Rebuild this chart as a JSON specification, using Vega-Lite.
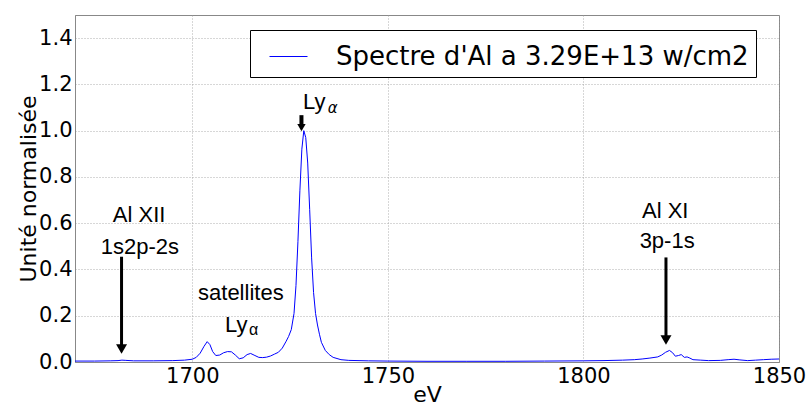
{
  "$schema": "https://vega.github.io/schema/vega-lite/v6.json",
  "width": 704,
  "height": 347,
  "autosize": {"type": "none"},
  "padding": {"left": 75, "top": 15, "right": 29, "bottom": 44},
  "background": "white",
  "config": {
    "view": {"stroke": "#888888", "strokeWidth": 1},
    "axis": {
      "labelFont": "DejaVu Sans",
      "labelFontSize": 21,
      "labelColor": "black",
      "labelPadding": 3,
      "labelFlush": false,
      "labelOverlap": false,
      "ticks": false,
      "domainColor": "#888888",
      "grid": true,
      "gridColor": "#999999",
      "gridDash": [1, 2],
      "gridWidth": 0.8,
      "titleFont": "DejaVu Sans",
      "titleFontSize": 22,
      "titleFontWeight": "normal",
      "titleColor": "black"
    }
  },
  "datasets": {
    "spectre": [
      {"eV": 1670, "I": 0.004, "serie": "Spectre d'Al a 3.29E+13 w/cm2"},
      {"eV": 1675, "I": 0.004, "serie": "Spectre d'Al a 3.29E+13 w/cm2"},
      {"eV": 1679, "I": 0.005, "serie": "Spectre d'Al a 3.29E+13 w/cm2"},
      {"eV": 1681, "I": 0.006, "serie": "Spectre d'Al a 3.29E+13 w/cm2"},
      {"eV": 1682, "I": 0.008, "serie": "Spectre d'Al a 3.29E+13 w/cm2"},
      {"eV": 1683, "I": 0.007, "serie": "Spectre d'Al a 3.29E+13 w/cm2"},
      {"eV": 1685, "I": 0.005, "serie": "Spectre d'Al a 3.29E+13 w/cm2"},
      {"eV": 1690, "I": 0.005, "serie": "Spectre d'Al a 3.29E+13 w/cm2"},
      {"eV": 1695, "I": 0.006, "serie": "Spectre d'Al a 3.29E+13 w/cm2"},
      {"eV": 1698, "I": 0.008, "serie": "Spectre d'Al a 3.29E+13 w/cm2"},
      {"eV": 1700, "I": 0.012, "serie": "Spectre d'Al a 3.29E+13 w/cm2"},
      {"eV": 1701, "I": 0.02, "serie": "Spectre d'Al a 3.29E+13 w/cm2"},
      {"eV": 1702, "I": 0.038, "serie": "Spectre d'Al a 3.29E+13 w/cm2"},
      {"eV": 1703, "I": 0.068, "serie": "Spectre d'Al a 3.29E+13 w/cm2"},
      {"eV": 1703.8, "I": 0.088, "serie": "Spectre d'Al a 3.29E+13 w/cm2"},
      {"eV": 1704.5, "I": 0.075, "serie": "Spectre d'Al a 3.29E+13 w/cm2"},
      {"eV": 1705.2, "I": 0.045, "serie": "Spectre d'Al a 3.29E+13 w/cm2"},
      {"eV": 1706, "I": 0.028, "serie": "Spectre d'Al a 3.29E+13 w/cm2"},
      {"eV": 1707, "I": 0.03, "serie": "Spectre d'Al a 3.29E+13 w/cm2"},
      {"eV": 1708, "I": 0.04, "serie": "Spectre d'Al a 3.29E+13 w/cm2"},
      {"eV": 1709, "I": 0.045, "serie": "Spectre d'Al a 3.29E+13 w/cm2"},
      {"eV": 1710, "I": 0.044, "serie": "Spectre d'Al a 3.29E+13 w/cm2"},
      {"eV": 1711, "I": 0.03, "serie": "Spectre d'Al a 3.29E+13 w/cm2"},
      {"eV": 1712, "I": 0.014, "serie": "Spectre d'Al a 3.29E+13 w/cm2"},
      {"eV": 1713, "I": 0.018, "serie": "Spectre d'Al a 3.29E+13 w/cm2"},
      {"eV": 1714, "I": 0.032, "serie": "Spectre d'Al a 3.29E+13 w/cm2"},
      {"eV": 1714.9, "I": 0.037, "serie": "Spectre d'Al a 3.29E+13 w/cm2"},
      {"eV": 1716, "I": 0.028, "serie": "Spectre d'Al a 3.29E+13 w/cm2"},
      {"eV": 1717, "I": 0.02, "serie": "Spectre d'Al a 3.29E+13 w/cm2"},
      {"eV": 1718, "I": 0.019, "serie": "Spectre d'Al a 3.29E+13 w/cm2"},
      {"eV": 1719, "I": 0.021, "serie": "Spectre d'Al a 3.29E+13 w/cm2"},
      {"eV": 1720, "I": 0.026, "serie": "Spectre d'Al a 3.29E+13 w/cm2"},
      {"eV": 1721, "I": 0.034, "serie": "Spectre d'Al a 3.29E+13 w/cm2"},
      {"eV": 1722, "I": 0.042, "serie": "Spectre d'Al a 3.29E+13 w/cm2"},
      {"eV": 1723, "I": 0.06, "serie": "Spectre d'Al a 3.29E+13 w/cm2"},
      {"eV": 1724, "I": 0.09, "serie": "Spectre d'Al a 3.29E+13 w/cm2"},
      {"eV": 1724.6, "I": 0.11, "serie": "Spectre d'Al a 3.29E+13 w/cm2"},
      {"eV": 1725.3, "I": 0.14, "serie": "Spectre d'Al a 3.29E+13 w/cm2"},
      {"eV": 1726, "I": 0.21, "serie": "Spectre d'Al a 3.29E+13 w/cm2"},
      {"eV": 1726.5, "I": 0.33, "serie": "Spectre d'Al a 3.29E+13 w/cm2"},
      {"eV": 1727, "I": 0.52, "serie": "Spectre d'Al a 3.29E+13 w/cm2"},
      {"eV": 1727.5, "I": 0.74, "serie": "Spectre d'Al a 3.29E+13 w/cm2"},
      {"eV": 1728, "I": 0.92, "serie": "Spectre d'Al a 3.29E+13 w/cm2"},
      {"eV": 1728.5, "I": 1.0, "serie": "Spectre d'Al a 3.29E+13 w/cm2"},
      {"eV": 1729, "I": 0.97, "serie": "Spectre d'Al a 3.29E+13 w/cm2"},
      {"eV": 1729.5, "I": 0.86, "serie": "Spectre d'Al a 3.29E+13 w/cm2"},
      {"eV": 1730, "I": 0.66, "serie": "Spectre d'Al a 3.29E+13 w/cm2"},
      {"eV": 1730.5, "I": 0.45, "serie": "Spectre d'Al a 3.29E+13 w/cm2"},
      {"eV": 1731, "I": 0.3, "serie": "Spectre d'Al a 3.29E+13 w/cm2"},
      {"eV": 1731.5, "I": 0.21, "serie": "Spectre d'Al a 3.29E+13 w/cm2"},
      {"eV": 1732, "I": 0.16, "serie": "Spectre d'Al a 3.29E+13 w/cm2"},
      {"eV": 1732.5, "I": 0.12, "serie": "Spectre d'Al a 3.29E+13 w/cm2"},
      {"eV": 1733, "I": 0.085, "serie": "Spectre d'Al a 3.29E+13 w/cm2"},
      {"eV": 1734, "I": 0.05, "serie": "Spectre d'Al a 3.29E+13 w/cm2"},
      {"eV": 1735, "I": 0.032, "serie": "Spectre d'Al a 3.29E+13 w/cm2"},
      {"eV": 1736, "I": 0.02, "serie": "Spectre d'Al a 3.29E+13 w/cm2"},
      {"eV": 1738, "I": 0.01, "serie": "Spectre d'Al a 3.29E+13 w/cm2"},
      {"eV": 1740, "I": 0.007, "serie": "Spectre d'Al a 3.29E+13 w/cm2"},
      {"eV": 1745, "I": 0.005, "serie": "Spectre d'Al a 3.29E+13 w/cm2"},
      {"eV": 1750, "I": 0.004, "serie": "Spectre d'Al a 3.29E+13 w/cm2"},
      {"eV": 1760, "I": 0.003, "serie": "Spectre d'Al a 3.29E+13 w/cm2"},
      {"eV": 1770, "I": 0.003, "serie": "Spectre d'Al a 3.29E+13 w/cm2"},
      {"eV": 1780, "I": 0.003, "serie": "Spectre d'Al a 3.29E+13 w/cm2"},
      {"eV": 1790, "I": 0.004, "serie": "Spectre d'Al a 3.29E+13 w/cm2"},
      {"eV": 1800, "I": 0.005, "serie": "Spectre d'Al a 3.29E+13 w/cm2"},
      {"eV": 1805, "I": 0.006, "serie": "Spectre d'Al a 3.29E+13 w/cm2"},
      {"eV": 1810, "I": 0.008, "serie": "Spectre d'Al a 3.29E+13 w/cm2"},
      {"eV": 1813, "I": 0.01, "serie": "Spectre d'Al a 3.29E+13 w/cm2"},
      {"eV": 1815, "I": 0.013, "serie": "Spectre d'Al a 3.29E+13 w/cm2"},
      {"eV": 1817, "I": 0.017, "serie": "Spectre d'Al a 3.29E+13 w/cm2"},
      {"eV": 1819, "I": 0.022, "serie": "Spectre d'Al a 3.29E+13 w/cm2"},
      {"eV": 1820, "I": 0.03, "serie": "Spectre d'Al a 3.29E+13 w/cm2"},
      {"eV": 1821, "I": 0.042, "serie": "Spectre d'Al a 3.29E+13 w/cm2"},
      {"eV": 1822, "I": 0.05, "serie": "Spectre d'Al a 3.29E+13 w/cm2"},
      {"eV": 1822.8, "I": 0.04, "serie": "Spectre d'Al a 3.29E+13 w/cm2"},
      {"eV": 1823.5, "I": 0.025, "serie": "Spectre d'Al a 3.29E+13 w/cm2"},
      {"eV": 1824.3, "I": 0.028, "serie": "Spectre d'Al a 3.29E+13 w/cm2"},
      {"eV": 1825, "I": 0.032, "serie": "Spectre d'Al a 3.29E+13 w/cm2"},
      {"eV": 1825.8, "I": 0.02, "serie": "Spectre d'Al a 3.29E+13 w/cm2"},
      {"eV": 1826.5, "I": 0.022, "serie": "Spectre d'Al a 3.29E+13 w/cm2"},
      {"eV": 1827.2, "I": 0.017, "serie": "Spectre d'Al a 3.29E+13 w/cm2"},
      {"eV": 1828, "I": 0.01, "serie": "Spectre d'Al a 3.29E+13 w/cm2"},
      {"eV": 1830, "I": 0.008, "serie": "Spectre d'Al a 3.29E+13 w/cm2"},
      {"eV": 1832, "I": 0.006, "serie": "Spectre d'Al a 3.29E+13 w/cm2"},
      {"eV": 1835, "I": 0.007, "serie": "Spectre d'Al a 3.29E+13 w/cm2"},
      {"eV": 1837, "I": 0.01, "serie": "Spectre d'Al a 3.29E+13 w/cm2"},
      {"eV": 1838.5, "I": 0.012, "serie": "Spectre d'Al a 3.29E+13 w/cm2"},
      {"eV": 1840, "I": 0.009, "serie": "Spectre d'Al a 3.29E+13 w/cm2"},
      {"eV": 1842, "I": 0.006, "serie": "Spectre d'Al a 3.29E+13 w/cm2"},
      {"eV": 1844, "I": 0.008, "serie": "Spectre d'Al a 3.29E+13 w/cm2"},
      {"eV": 1846, "I": 0.01, "serie": "Spectre d'Al a 3.29E+13 w/cm2"},
      {"eV": 1848, "I": 0.012, "serie": "Spectre d'Al a 3.29E+13 w/cm2"},
      {"eV": 1850, "I": 0.013, "serie": "Spectre d'Al a 3.29E+13 w/cm2"}
    ],
    "shafts": [
      {"eV": 1681.9, "I": 0.455, "I2": 0.07},
      {"eV": 1821.1, "I": 0.452, "I2": 0.11}
    ],
    "heads": [
      {"eV": 1681.9, "I": 0.056},
      {"eV": 1821.1, "I": 0.095}
    ],
    "lyShaft": [
      {"eV": 1727.9, "I": 1.067, "I2": 1.02}
    ],
    "lyHead": [
      {"eV": 1727.9, "I": 1.013}
    ],
    "labels": [
      {"eV": 1686.4, "I": 0.635, "txt": "Al XII"},
      {"eV": 1686.6, "I": 0.498, "txt": "1s2p-2s"},
      {"eV": 1820.9, "I": 0.654, "txt": "Al XI"},
      {"eV": 1821.4, "I": 0.524, "txt": "3p-1s"},
      {"eV": 1712.4, "I": 0.298, "txt": "satellites"}
    ],
    "ly": [
      {"eV": 1728.3, "I": 1.125, "txt": "Ly"},
      {"eV": 1708.35, "I": 0.16, "txt": "Ly"}
    ],
    "alphaTop": [
      {"eV": 1734.6, "I": 1.1, "txt": "α"}
    ],
    "alphaSat": [
      {"eV": 1714.5, "I": 0.138, "txt": "α"}
    ]
  },
  "encoding": {
    "x": {
      "field": "eV",
      "type": "quantitative",
      "scale": {"domain": [1670, 1850], "nice": false, "zero": false},
      "axis": {
        "values": [1700, 1750, 1800, 1850],
        "format": "d",
        "title": "eV",
        "titleBaseline": "alphabetic",
        "titleY": 39
      }
    },
    "y": {
      "field": "I",
      "type": "quantitative",
      "scale": {"domain": [0, 1.5], "nice": false, "zero": false},
      "axis": {
        "values": [0, 0.2, 0.4, 0.6, 0.8, 1.0, 1.2, 1.4],
        "format": ".1f",
        "title": "Unité normalisée",
        "titleX": -47,
        "titleY": 173.5,
        "titleAngle": -90,
        "titleAlign": "center",
        "titleBaseline": "middle"
      }
    }
  },
  "layer": [
    {
      "data": {"name": "spectre"},
      "mark": {"type": "line", "strokeWidth": 1, "clip": true},
      "encoding": {
        "color": {
          "field": "serie",
          "type": "nominal",
          "scale": {"range": ["#0000ff"]},
          "legend": {
            "orient": "none",
            "legendX": 175,
            "legendY": 15,
            "title": null,
            "symbolType": "stroke",
            "symbolSize": 1444,
            "symbolStrokeWidth": 1,
            "labelFont": "DejaVu Sans",
            "labelFontSize": 26,
            "labelColor": "black",
            "labelLimit": 0,
            "strokeColor": "black",
            "fillColor": "white",
            "padding": 7,
            "symbolOffset": 12,
            "labelOffset": 28
          }
        }
      }
    },
    {
      "data": {"name": "shafts"},
      "mark": {"type": "rule", "strokeWidth": 3, "color": "black"},
      "encoding": {"y2": {"field": "I2"}}
    },
    {
      "data": {"name": "heads"},
      "mark": {"type": "point", "shape": "triangle-down", "filled": true, "color": "black", "opacity": 1, "size": 121}
    },
    {
      "data": {"name": "lyShaft"},
      "mark": {"type": "rule", "strokeWidth": 4, "color": "black"},
      "encoding": {"y2": {"field": "I2"}}
    },
    {
      "data": {"name": "lyHead"},
      "mark": {"type": "point", "shape": "triangle-down", "filled": true, "color": "black", "opacity": 1, "size": 70}
    },
    {
      "data": {"name": "labels"},
      "mark": {"type": "text", "font": "Liberation Sans", "fontSize": 22, "align": "center", "baseline": "middle", "color": "black"},
      "encoding": {"text": {"field": "txt"}}
    },
    {
      "data": {"name": "ly"},
      "mark": {"type": "text", "font": "Liberation Sans", "fontSize": 22, "align": "left", "baseline": "middle", "color": "black"},
      "encoding": {"text": {"field": "txt"}}
    },
    {
      "data": {"name": "alphaTop"},
      "mark": {"type": "text", "font": "DejaVu Sans", "fontStyle": "italic", "fontSize": 15, "align": "left", "baseline": "middle", "color": "black"},
      "encoding": {"text": {"field": "txt"}}
    },
    {
      "data": {"name": "alphaSat"},
      "mark": {"type": "text", "font": "Liberation Sans", "fontSize": 16, "align": "left", "baseline": "middle", "color": "black"},
      "encoding": {"text": {"field": "txt"}}
    }
  ]
}
